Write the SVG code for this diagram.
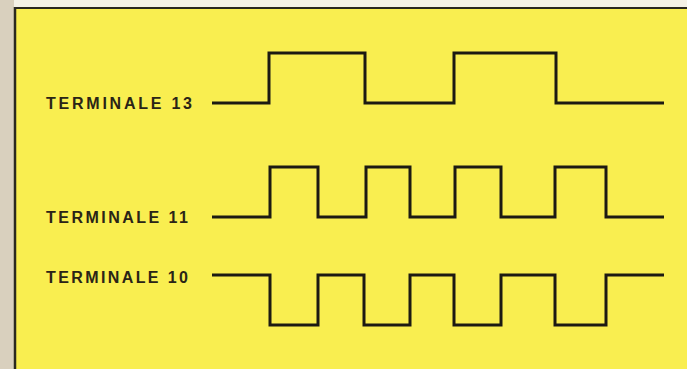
<svg xmlns="http://www.w3.org/2000/svg" width="687" height="369" viewBox="0 0 687 369">
<style>
.lbl{font-family:"Liberation Sans",Arial,sans-serif;font-weight:bold;font-size:16px;fill:#2a2416}
.wave{fill:none;stroke:#1c1a12;stroke-width:3;stroke-linejoin:miter;stroke-linecap:butt}
</style>
<rect x="0" y="0" width="687" height="369" fill="#f4f1e6"/>
<rect x="0" y="0" width="14" height="369" fill="#d9d0be"/>
<rect x="15" y="8" width="672" height="361" fill="#f9ee50"/>
<line x1="15" y1="8" x2="687" y2="8" stroke="#2a2820" stroke-width="2"/>
<line x1="15" y1="7" x2="15" y2="369" stroke="#2a2820" stroke-width="2.5"/>
<g id="label13"><text class="lbl" x="46" y="109" textLength="146" lengthAdjust="spacing">TERMINALE 13</text></g>
<g id="label11"><text class="lbl" x="46" y="223" textLength="142" lengthAdjust="spacing">TERMINALE 11</text></g>
<g id="label10"><text class="lbl" x="46" y="283" textLength="142" lengthAdjust="spacing">TERMINALE 10</text></g>
<g id="connectors">
<path id="wave13" class="wave" d="M212 103 H269 V53 H365 V103 H454 V53 H556 V103 H664"/>
<path id="wave11" class="wave" d="M212 217 H270 V167 H318 V217 H366 V167 H410 V217 H455 V167 H501 V217 H555 V167 H606 V217 H664"/>
<path id="wave10" class="wave" d="M212 275 H270 V325 H318 V275 H364 V325 H410 V275 H454 V325 H501 V275 H555 V325 H606 V275 H664"/>
</g>
</svg>
